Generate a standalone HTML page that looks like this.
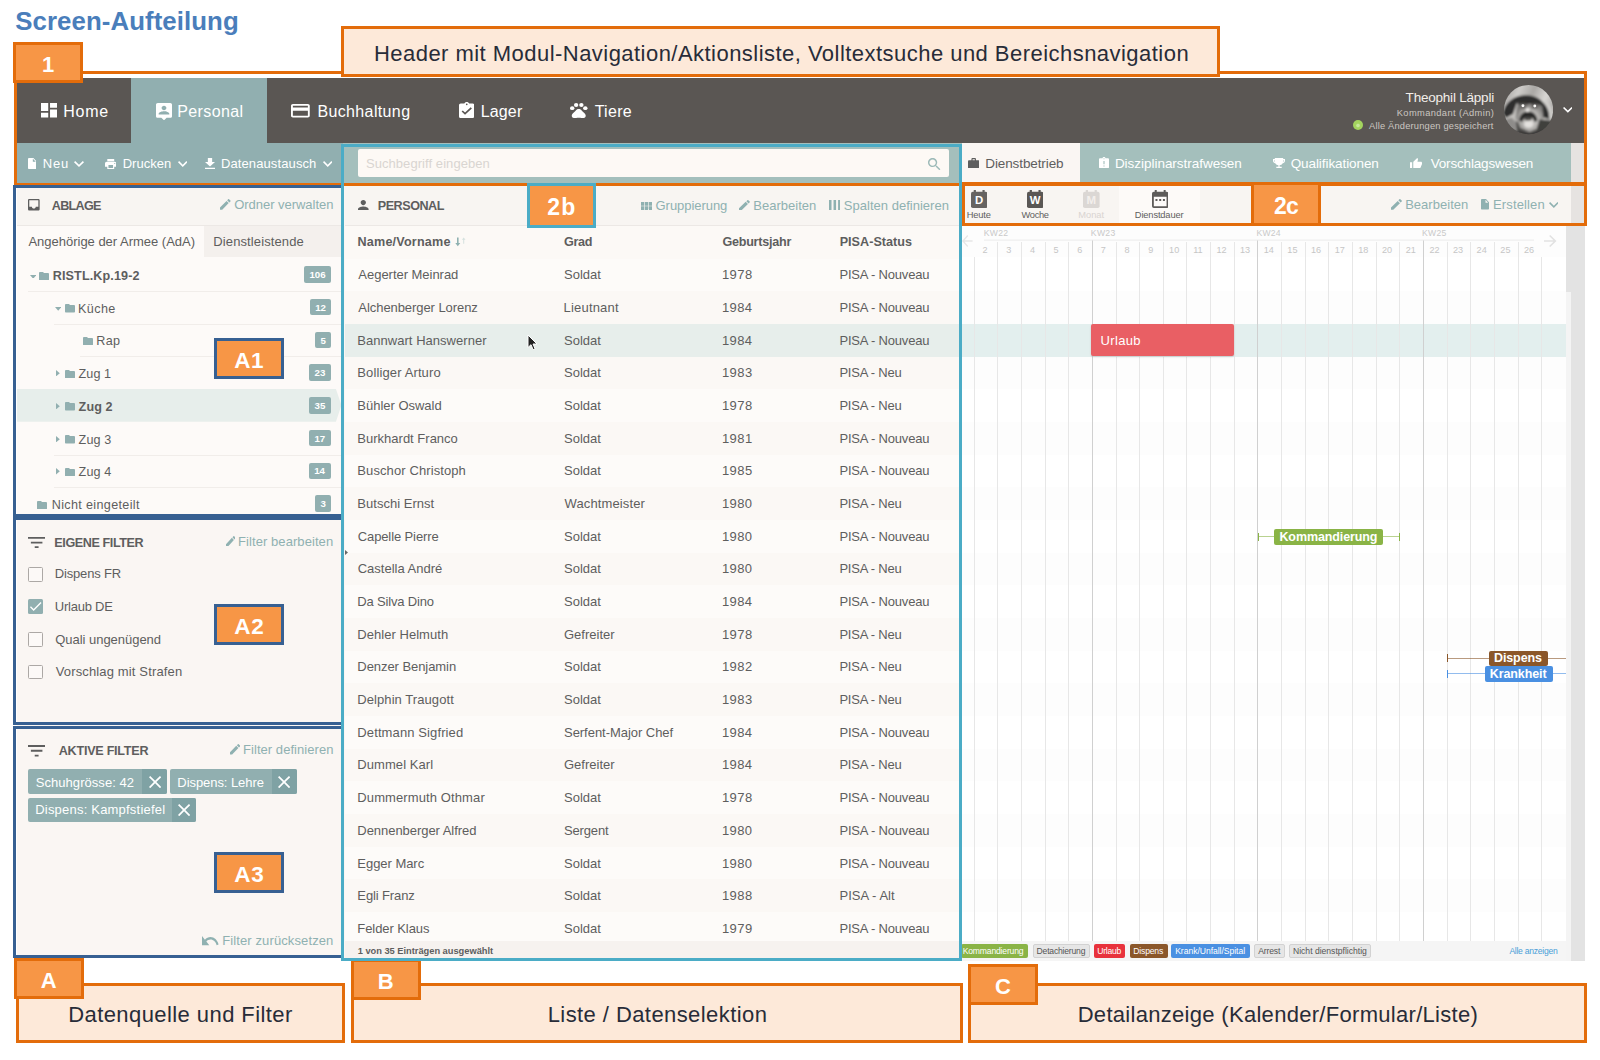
<!DOCTYPE html>
<html lang="de"><head><meta charset="utf-8"><title>Screen-Aufteilung</title>
<style>
html,body{margin:0;padding:0;background:#fff;}
body{width:1600px;height:1060px;position:relative;overflow:hidden;font-family:"Liberation Sans",sans-serif;}
div,span.t,svg{position:absolute;box-sizing:border-box;}
span.t{white-space:pre;line-height:1;}

</style></head><body>
<span class="t" style="left:15.26px;top:8.75px;font-size:25.8px;font-weight:700;color:#4a7ebb;letter-spacing:0.082px;">Screen-Aufteilung</span>
<div style="left:17px;top:78px;width:1567px;height:65px;background:#5a5653;"></div>
<div style="left:131px;top:78px;width:135.5px;height:65px;background:#91afb0;"></div>
<div style="left:17px;top:143px;width:327px;height:41px;background:#91afb0;"></div>
<div style="left:343px;top:143px;width:619px;height:41px;background:#a4bfbc;"></div>
<div style="left:962px;top:143px;width:609px;height:40px;background:#a4bfbc;"></div>
<div style="left:962px;top:143px;width:118px;height:40px;background:#faf6f3;"></div>
<div style="left:1571px;top:143px;width:13.5px;height:83px;background:#e6e3e1;"></div>
<div style="left:1571px;top:226px;width:13.5px;height:735px;background:#e3e3e3;"></div>
<div style="left:17px;top:184px;width:327px;height:774px;background:#faf6f3;"></div>
<div style="left:343px;top:184px;width:619px;height:777px;background:#faf6f3;"></div>
<div style="left:961px;top:184px;width:610px;height:42px;background:#faf6f3;"></div>
<div style="left:961px;top:226px;width:610px;height:735px;background:#ffffff;"></div>
<div style="left:358px;top:149px;width:591px;height:28px;background:#fdf9f5;border-radius:2px;"></div>
<div style="left:17px;top:185px;width:327px;height:40.5px;background:#f8f5f2;"></div>
<div style="left:17px;top:225px;width:327px;height:1px;background:#ece8e5;"></div>
<div style="left:17px;top:226px;width:327px;height:291px;background:#fdfaf8;"></div>
<div style="left:204.4px;top:226px;width:139.6px;height:31.2px;background:#f4f0ed;"></div>
<svg style="left:28.10px;top:199.40px;" width="11.65" height="11.50" viewBox="3 3 18.00 18.00" preserveAspectRatio="none" fill="#5e5e5e"><path d="M19 3H4.990c-1.110 0-1.980.890-1.980 2L3 19c0 1.100.880 2 1.990 2H19c1.100 0 2-.9 2-2V5c0-1.110-.9-2-2-2zm0 12h-4c0 1.660-1.350 3-3 3s-3-1.340-3-3H4.990V5H19v10z"/></svg>
<span class="t" style="left:51.79px;top:200.10px;font-size:12.6px;font-weight:700;color:#5e5e5e;letter-spacing:-0.713px;">ABLAGE</span>
<svg style="left:220.40px;top:199.40px;" width="10.60" height="10.70" viewBox="3 3 18.00 18.00" preserveAspectRatio="none" fill="#8fb1b1"><path d="M3 17.25V21h3.750L17.810 9.940l-3.750-3.750L3 17.250zM20.710 7.040c.39-.39.39-1.020 0-1.410l-2.340-2.340c-.39-.39-1.020-.39-1.410 0l-1.830 1.830 3.750 3.750 1.830-1.830z"/></svg>
<span class="t" style="left:234.18px;top:198.20px;font-size:13px;color:#8fb1b1;letter-spacing:-0.030px;">Ordner verwalten</span>
<span class="t" style="left:28.47px;top:235.20px;font-size:13px;color:#5e5e5e;letter-spacing:-0.016px;">Angehörige der Armee (AdA)</span>
<span class="t" style="left:213.33px;top:235.20px;font-size:13px;color:#5e5e5e;letter-spacing:0.111px;">Dienstleistende</span>
<div style="left:28px;top:290.85px;width:313px;height:1px;background:#f1edea;"></div>
<svg style="left:29.50px;top:274.60px;" width="6.40" height="3.80" viewBox="0 0 10.00 6.00" preserveAspectRatio="none" fill="#91afb0"><path d="M0 0h10L5 6z"/></svg>
<svg style="left:38.70px;top:271.50px;" width="10.00" height="8.50" viewBox="2 4 20.00 16.00" preserveAspectRatio="none" fill="#91afb0"><path d="M10 4H4c-1.100 0-1.990.9-1.990 2L2 18c0 1.100.9 2 2 2h16c1.100 0 2-.9 2-2V8c0-1.100-.9-2-2-2h-8l-2-2z"/></svg>
<span class="t" style="left:52.76px;top:269.90px;font-size:12.6px;font-weight:700;color:#5e5e5e;letter-spacing:0.115px;">RISTL.Kp.19-2</span>
<div style="left:304.4px;top:266.2px;width:26.6px;height:16.5px;background:#91afb0;border-radius:2px;"></div>
<span class="t" style="left:309.49px;top:270.10px;font-size:9.7px;font-weight:700;color:#fff;">106</span>
<div style="left:54px;top:323.58000000000004px;width:287px;height:1px;background:#f1edea;"></div>
<svg style="left:55.00px;top:307.33px;" width="6.40" height="3.80" viewBox="0 0 10.00 6.00" preserveAspectRatio="none" fill="#91afb0"><path d="M0 0h10L5 6z"/></svg>
<svg style="left:64.80px;top:304.23px;" width="10.00" height="8.50" viewBox="2 4 20.00 16.00" preserveAspectRatio="none" fill="#91afb0"><path d="M10 4H4c-1.100 0-1.990.9-1.990 2L2 18c0 1.100.9 2 2 2h16c1.100 0 2-.9 2-2V8c0-1.100-.9-2-2-2h-8l-2-2z"/></svg>
<span class="t" style="left:77.97px;top:302.63px;font-size:12.6px;color:#5e5e5e;letter-spacing:0.421px;">Küche</span>
<div style="left:310.4px;top:298.93px;width:20.6px;height:16.5px;background:#91afb0;border-radius:2px;"></div>
<span class="t" style="left:315.20px;top:302.83px;font-size:9.7px;font-weight:700;color:#fff;">12</span>
<div style="left:80px;top:356.31px;width:261px;height:1px;background:#f1edea;"></div>
<svg style="left:82.60px;top:336.96px;" width="10.00" height="8.50" viewBox="2 4 20.00 16.00" preserveAspectRatio="none" fill="#91afb0"><path d="M10 4H4c-1.100 0-1.990.9-1.990 2L2 18c0 1.100.9 2 2 2h16c1.100 0 2-.9 2-2V8c0-1.100-.9-2-2-2h-8l-2-2z"/></svg>
<span class="t" style="left:96.37px;top:335.36px;font-size:12.6px;color:#5e5e5e;letter-spacing:0.330px;">Rap</span>
<div style="left:315.4px;top:331.65999999999997px;width:15.6px;height:16.5px;background:#91afb0;border-radius:2px;"></div>
<span class="t" style="left:320.49px;top:335.56px;font-size:9.7px;font-weight:700;color:#fff;">5</span>
<svg style="left:56.20px;top:370.09px;" width="3.80" height="6.40" viewBox="0 0 6.00 10.00" preserveAspectRatio="none" fill="#91afb0"><path d="M0 0v10l6-5z"/></svg>
<svg style="left:64.80px;top:369.69px;" width="10.00" height="8.50" viewBox="2 4 20.00 16.00" preserveAspectRatio="none" fill="#91afb0"><path d="M10 4H4c-1.100 0-1.990.9-1.990 2L2 18c0 1.100.9 2 2 2h16c1.100 0 2-.9 2-2V8c0-1.100-.9-2-2-2h-8l-2-2z"/></svg>
<span class="t" style="left:78.60px;top:368.09px;font-size:12.6px;color:#5e5e5e;letter-spacing:0.053px;">Zug 1</span>
<div style="left:308.8px;top:364.39px;width:22.2px;height:16.5px;background:#91afb0;border-radius:2px;"></div>
<span class="t" style="left:314.52px;top:368.29px;font-size:9.7px;font-weight:700;color:#fff;">23</span>
<svg style="left:17px;top:389.12px" width="327" height="32.700" viewBox="0 0 327 32.700"><path d="M0 0H319L324.500 16.350 319 32.700H0z" fill="#e7eeeb"/></svg>
<svg style="left:56.20px;top:402.82px;" width="3.80" height="6.40" viewBox="0 0 6.00 10.00" preserveAspectRatio="none" fill="#91afb0"><path d="M0 0v10l6-5z"/></svg>
<svg style="left:64.80px;top:402.42px;" width="10.00" height="8.50" viewBox="2 4 20.00 16.00" preserveAspectRatio="none" fill="#91afb0"><path d="M10 4H4c-1.100 0-1.990.9-1.990 2L2 18c0 1.100.9 2 2 2h16c1.100 0 2-.9 2-2V8c0-1.100-.9-2-2-2h-8l-2-2z"/></svg>
<span class="t" style="left:78.62px;top:400.82px;font-size:12.6px;font-weight:700;color:#5e5e5e;letter-spacing:0.075px;">Zug 2</span>
<div style="left:308.8px;top:397.11999999999995px;width:22.2px;height:16.5px;background:#91afb0;border-radius:2px;"></div>
<span class="t" style="left:314.54px;top:401.02px;font-size:9.7px;font-weight:700;color:#fff;">35</span>
<div style="left:54px;top:454.5px;width:287px;height:1px;background:#f1edea;"></div>
<svg style="left:56.20px;top:435.55px;" width="3.80" height="6.40" viewBox="0 0 6.00 10.00" preserveAspectRatio="none" fill="#91afb0"><path d="M0 0v10l6-5z"/></svg>
<svg style="left:64.80px;top:435.15px;" width="10.00" height="8.50" viewBox="2 4 20.00 16.00" preserveAspectRatio="none" fill="#91afb0"><path d="M10 4H4c-1.100 0-1.990.9-1.990 2L2 18c0 1.100.9 2 2 2h16c1.100 0 2-.9 2-2V8c0-1.100-.9-2-2-2h-8l-2-2z"/></svg>
<span class="t" style="left:78.60px;top:433.55px;font-size:12.6px;color:#5e5e5e;letter-spacing:0.137px;">Zug 3</span>
<div style="left:308.8px;top:429.84999999999997px;width:22.2px;height:16.5px;background:#91afb0;border-radius:2px;"></div>
<span class="t" style="left:314.42px;top:433.75px;font-size:9.7px;font-weight:700;color:#fff;">17</span>
<div style="left:54px;top:487.23px;width:287px;height:1px;background:#f1edea;"></div>
<svg style="left:56.20px;top:468.28px;" width="3.80" height="6.40" viewBox="0 0 6.00 10.00" preserveAspectRatio="none" fill="#91afb0"><path d="M0 0v10l6-5z"/></svg>
<svg style="left:64.80px;top:467.88px;" width="10.00" height="8.50" viewBox="2 4 20.00 16.00" preserveAspectRatio="none" fill="#91afb0"><path d="M10 4H4c-1.100 0-1.990.9-1.990 2L2 18c0 1.100.9 2 2 2h16c1.100 0 2-.9 2-2V8c0-1.100-.9-2-2-2h-8l-2-2z"/></svg>
<span class="t" style="left:78.60px;top:466.28px;font-size:12.6px;color:#5e5e5e;letter-spacing:0.091px;">Zug 4</span>
<div style="left:308.8px;top:462.58px;width:22.2px;height:16.5px;background:#91afb0;border-radius:2px;"></div>
<span class="t" style="left:314.23px;top:466.48px;font-size:9.7px;font-weight:700;color:#fff;">14</span>
<svg style="left:37.00px;top:500.61px;" width="10.00" height="8.50" viewBox="2 4 20.00 16.00" preserveAspectRatio="none" fill="#91afb0"><path d="M10 4H4c-1.100 0-1.990.9-1.990 2L2 18c0 1.100.9 2 2 2h16c1.100 0 2-.9 2-2V8c0-1.100-.9-2-2-2h-8l-2-2z"/></svg>
<span class="t" style="left:51.77px;top:499.01px;font-size:12.6px;color:#5e5e5e;letter-spacing:0.341px;">Nicht eingeteilt</span>
<div style="left:315.4px;top:495.31px;width:15.6px;height:16.5px;background:#91afb0;border-radius:2px;"></div>
<span class="t" style="left:320.57px;top:499.21px;font-size:9.7px;font-weight:700;color:#fff;">3</span>
<svg style="left:28.00px;top:537.00px;" width="17.30" height="11.20" viewBox="3 6 18.00 12.00" preserveAspectRatio="none" fill="#5e5e5e"><path d="M10 18h4v-2h-4v2zM3 6v2h18V6H3zm3 7h12v-2H6v2z"/></svg>
<span class="t" style="left:54.36px;top:536.90px;font-size:12.6px;font-weight:700;color:#5e5e5e;letter-spacing:-0.410px;">EIGENE FILTER</span>
<svg style="left:225.60px;top:535.50px;" width="9.60" height="10.50" viewBox="3 3 18.00 18.00" preserveAspectRatio="none" fill="#8fb1b1"><path d="M3 17.25V21h3.750L17.810 9.940l-3.750-3.750L3 17.250zM20.710 7.040c.39-.39.39-1.020 0-1.410l-2.340-2.340c-.39-.39-1.020-.39-1.410 0l-1.830 1.830 3.750 3.750 1.830-1.830z"/></svg>
<span class="t" style="left:238.03px;top:534.60px;font-size:13px;color:#8fb1b1;letter-spacing:0.073px;">Filter bearbeiten</span>
<div style="left:28px;top:567px;width:15px;height:14.5px;background:#fcf9f7;border:1px solid #aca8a5;border-radius:1.5px;"></div>
<span class="t" style="left:54.73px;top:567.30px;font-size:13px;color:#5e5e5e;letter-spacing:-0.160px;">Dispens FR</span>
<div style="left:28px;top:599.2px;width:15px;height:14.5px;background:#91afb0;border-radius:1.5px;"></div>
<svg style="left:30.00px;top:601.70px;" width="11.50" height="9.00" viewBox="3.43 5.59 17.57 13.41" preserveAspectRatio="none" fill="#fff"><path d="M9 16.170L4.830 12l-1.400 1.400L9 19 21 7l-1.410-1.410z"/></svg>
<span class="t" style="left:54.80px;top:599.50px;font-size:13px;color:#5e5e5e;letter-spacing:-0.238px;">Urlaub DE</span>
<div style="left:28px;top:632.2px;width:15px;height:14.5px;background:#fcf9f7;border:1px solid #aca8a5;border-radius:1.5px;"></div>
<span class="t" style="left:55.18px;top:632.50px;font-size:13px;color:#5e5e5e;letter-spacing:-0.027px;">Quali ungenügend</span>
<div style="left:28px;top:664.8px;width:15px;height:14.5px;background:#fcf9f7;border:1px solid #aca8a5;border-radius:1.5px;"></div>
<span class="t" style="left:55.74px;top:665.10px;font-size:13px;color:#5e5e5e;letter-spacing:0.142px;">Vorschlag mit Strafen</span>
<svg style="left:28.00px;top:745.00px;" width="17.30" height="11.60" viewBox="3 6 18.00 12.00" preserveAspectRatio="none" fill="#5e5e5e"><path d="M10 18h4v-2h-4v2zM3 6v2h18V6H3zm3 7h12v-2H6v2z"/></svg>
<span class="t" style="left:58.79px;top:745.00px;font-size:12.6px;font-weight:700;color:#5e5e5e;letter-spacing:-0.254px;">AKTIVE FILTER</span>
<svg style="left:229.60px;top:744.00px;" width="10.20" height="10.50" viewBox="3 3 18.00 18.00" preserveAspectRatio="none" fill="#8fb1b1"><path d="M3 17.25V21h3.750L17.810 9.940l-3.750-3.750L3 17.250zM20.710 7.040c.39-.39.39-1.020 0-1.410l-2.340-2.340c-.39-.39-1.020-.39-1.410 0l-1.830 1.830 3.750 3.750 1.830-1.830z"/></svg>
<span class="t" style="left:243.03px;top:743.30px;font-size:13px;color:#8fb1b1;letter-spacing:0.051px;">Filter definieren</span>
<div style="left:28.1px;top:769.2px;width:138.9px;height:24.799999999999955px;background:#91afb0;border-radius:2px;"></div>
<div style="left:142.2px;top:769.2px;width:24.80000000000001px;height:24.799999999999955px;background:#7fa2a4;border-radius:0 2px 2px 0;"></div>
<span class="t" style="left:35.71px;top:775.70px;font-size:13px;color:#fff;letter-spacing:0.056px;">Schuhgrösse: 42</span>
<svg style="left:148.50px;top:775.50px;" width="12.20" height="12.20" viewBox="5 5 14.00 14.00" preserveAspectRatio="none" fill="#fff"><path d="M19 6.410L17.590 5 12 10.590 6.410 5 5 6.410 10.590 12 5 17.590 6.410 19 12 13.410 17.590 19 19 17.590 13.410 12z"/></svg>
<div style="left:170.1px;top:769.2px;width:126.50000000000003px;height:24.799999999999955px;background:#91afb0;border-radius:2px;"></div>
<div style="left:271.8px;top:769.2px;width:24.80000000000001px;height:24.799999999999955px;background:#7fa2a4;border-radius:0 2px 2px 0;"></div>
<span class="t" style="left:177.33px;top:775.70px;font-size:13px;color:#fff;letter-spacing:-0.069px;">Dispens: Lehre</span>
<svg style="left:278.10px;top:775.50px;" width="12.20" height="12.20" viewBox="5 5 14.00 14.00" preserveAspectRatio="none" fill="#fff"><path d="M19 6.410L17.590 5 12 10.590 6.410 5 5 6.410 10.590 12 5 17.590 6.410 19 12 13.410 17.590 19 19 17.590 13.410 12z"/></svg>
<div style="left:28.1px;top:797.6px;width:167.9px;height:24.0px;background:#91afb0;border-radius:2px;"></div>
<div style="left:172.1px;top:797.6px;width:23.900000000000006px;height:24.0px;background:#7fa2a4;border-radius:0 2px 2px 0;"></div>
<span class="t" style="left:35.23px;top:803.40px;font-size:13px;color:#fff;letter-spacing:0.206px;">Dispens: Kampfstiefel</span>
<svg style="left:177.95px;top:803.50px;" width="12.20" height="12.20" viewBox="5 5 14.00 14.00" preserveAspectRatio="none" fill="#fff"><path d="M19 6.410L17.590 5 12 10.590 6.410 5 5 6.410 10.590 12 5 17.590 6.410 19 12 13.410 17.590 19 19 17.590 13.410 12z"/></svg>
<svg style="left:202.00px;top:936.25px;" width="17.00" height="9.50" viewBox="2 7 21.00 9.30" preserveAspectRatio="none" fill="#8fb1b1"><path d="M12.500 8c-2.650 0-5.050.990-6.900 2.600L2 7v9h9l-3.620-3.620c1.390-1.160 3.160-1.880 5.120-1.880 3.540 0 6.550 2.310 7.600 5.500l2.370-.780C21.080 11.030 17.150 8 12.500 8z"/></svg>
<span class="t" style="left:222.18px;top:934.00px;font-size:13px;color:#8fb1b1;letter-spacing:0.115px;">Filter zurücksetzen</span>
<div style="left:344.5px;top:185px;width:614px;height:40.5px;background:#f8f5f2;"></div>
<div style="left:344.5px;top:225.3px;width:614px;height:1px;background:#ece8e5;"></div>
<div style="left:344.5px;top:226.3px;width:614px;height:32.39999999999998px;background:#fcf9f6;"></div>
<div style="left:344.5px;top:258.7px;width:614px;height:32.72px;background:#fdfbf9;"></div>
<div style="left:344.5px;top:291.37px;width:614px;height:32.72px;background:#fbf8f5;"></div>
<div style="left:344.5px;top:324.03999999999996px;width:614px;height:32.72px;background:#e7eeeb;"></div>
<div style="left:344.5px;top:356.71px;width:614px;height:32.72px;background:#fbf8f5;"></div>
<div style="left:344.5px;top:389.38px;width:614px;height:32.72px;background:#fdfbf9;"></div>
<div style="left:344.5px;top:422.05px;width:614px;height:32.72px;background:#fbf8f5;"></div>
<div style="left:344.5px;top:454.72px;width:614px;height:32.72px;background:#fdfbf9;"></div>
<div style="left:344.5px;top:487.39px;width:614px;height:32.72px;background:#fbf8f5;"></div>
<div style="left:344.5px;top:520.06px;width:614px;height:32.72px;background:#fdfbf9;"></div>
<div style="left:344.5px;top:552.73px;width:614px;height:32.72px;background:#fbf8f5;"></div>
<div style="left:344.5px;top:585.4000000000001px;width:614px;height:32.72px;background:#fdfbf9;"></div>
<div style="left:344.5px;top:618.0699999999999px;width:614px;height:32.72px;background:#fbf8f5;"></div>
<div style="left:344.5px;top:650.74px;width:614px;height:32.72px;background:#fdfbf9;"></div>
<div style="left:344.5px;top:683.4100000000001px;width:614px;height:32.72px;background:#fbf8f5;"></div>
<div style="left:344.5px;top:716.0799999999999px;width:614px;height:32.72px;background:#fdfbf9;"></div>
<div style="left:344.5px;top:748.75px;width:614px;height:32.72px;background:#fbf8f5;"></div>
<div style="left:344.5px;top:781.4200000000001px;width:614px;height:32.72px;background:#fdfbf9;"></div>
<div style="left:344.5px;top:814.0899999999999px;width:614px;height:32.72px;background:#fbf8f5;"></div>
<div style="left:344.5px;top:846.76px;width:614px;height:32.72px;background:#fdfbf9;"></div>
<div style="left:344.5px;top:879.4300000000001px;width:614px;height:32.72px;background:#fbf8f5;"></div>
<div style="left:344.5px;top:912.1000000000001px;width:614px;height:32.72px;background:#fdfbf9;"></div>
<div style="left:344.5px;top:941px;width:614px;height:17.5px;background:#f6f2ef;"></div>
<svg style="left:358.40px;top:199.60px;" width="10.60" height="10.40" viewBox="4 4 16.00 16.00" preserveAspectRatio="none" fill="#5e5e5e"><path d="M12 12c2.210 0 4-1.790 4-4s-1.790-4-4-4-4 1.790-4 4 1.790 4 4 4zm0 2c-2.670 0-8 1.340-8 4v2h16v-2c0-2.660-5.330-4-8-4z"/></svg>
<span class="t" style="left:377.76px;top:200.00px;font-size:12.6px;font-weight:700;color:#5e5e5e;letter-spacing:-0.477px;">PERSONAL</span>
<svg style="left:641.00px;top:201.80px;" width="11.20" height="7.90" viewBox="4 5 17.00 13.00" preserveAspectRatio="none" fill="#8fb1b1"><path d="M4 11h5V5H4v6zm0 7h5v-6H4v6zm6 0h5v-6h-5v6zm6 0h5v-6h-5v6zm-6-7h5V5h-5v6zm6-6v6h5V5h-5z"/></svg>
<span class="t" style="left:655.55px;top:198.70px;font-size:13px;color:#8fb1b1;letter-spacing:-0.048px;">Gruppierung</span>
<svg style="left:739.40px;top:199.50px;" width="10.90" height="10.50" viewBox="3 3 18.00 18.00" preserveAspectRatio="none" fill="#8fb1b1"><path d="M3 17.25V21h3.750L17.810 9.940l-3.750-3.750L3 17.250zM20.710 7.040c.39-.39.39-1.020 0-1.410l-2.340-2.340c-.39-.39-1.020-.39-1.410 0l-1.830 1.830 3.750 3.750 1.830-1.830z"/></svg>
<span class="t" style="left:753.23px;top:198.70px;font-size:13px;color:#8fb1b1;letter-spacing:0.015px;">Bearbeiten</span>
<svg style="left:828.90px;top:199.80px;" width="11.60" height="10.20" viewBox="0 0 12.00 12.00" preserveAspectRatio="none" fill="#8fb1b1"><rect x="0" y="0" width="2.6" height="12"/><rect x="4.700" y="0" width="2.6" height="12"/><rect x="9.400" y="0" width="2.6" height="12"/></svg>
<span class="t" style="left:843.81px;top:198.70px;font-size:13px;color:#8fb1b1;letter-spacing:0.020px;">Spalten definieren</span>
<span class="t" style="left:357.56px;top:235.60px;font-size:12.6px;font-weight:700;color:#5e5e5e;letter-spacing:0.192px;">Name/Vorname</span>
<span class="t" style="left:564.08px;top:235.60px;font-size:12.6px;font-weight:700;color:#5e5e5e;letter-spacing:-0.349px;">Grad</span>
<span class="t" style="left:722.38px;top:235.60px;font-size:12.6px;font-weight:700;color:#5e5e5e;letter-spacing:-0.237px;">Geburtsjahr</span>
<span class="t" style="left:839.66px;top:235.60px;font-size:12.6px;font-weight:700;color:#5e5e5e;letter-spacing:0.028px;">PISA-Status</span>
<svg style="left:454.5px;top:236.5px" width="12" height="10" viewBox="0 0 12 10"><path d="M2 0.500h1.600v5.500h1.700L2.800 9.300 0.300 6h1.700z" fill="#8fb1b1"/><path d="M8.700 0.500l1.800 2.300h-1.300v4h-1v-4h-1.300z" fill="#d5e1df"/></svg>
<span class="t" style="left:358.37px;top:268.43px;font-size:13px;color:#5e5e5e;letter-spacing:-0.032px;">Aegerter Meinrad</span>
<span class="t" style="left:564.01px;top:268.43px;font-size:13px;color:#5e5e5e;letter-spacing:0.005px;">Soldat</span>
<span class="t" style="left:721.91px;top:268.43px;font-size:13px;color:#5e5e5e;letter-spacing:0.445px;">1978</span>
<span class="t" style="left:839.43px;top:268.43px;font-size:13px;color:#5e5e5e;letter-spacing:-0.191px;">PISA - Nouveau</span>
<span class="t" style="left:358.37px;top:301.10px;font-size:13px;color:#5e5e5e;letter-spacing:-0.068px;">Alchenberger Lorenz</span>
<span class="t" style="left:563.53px;top:301.10px;font-size:13px;color:#5e5e5e;letter-spacing:0.196px;">Lieutnant</span>
<span class="t" style="left:721.91px;top:301.10px;font-size:13px;color:#5e5e5e;letter-spacing:0.384px;">1984</span>
<span class="t" style="left:839.43px;top:301.10px;font-size:13px;color:#5e5e5e;letter-spacing:-0.191px;">PISA - Nouveau</span>
<span class="t" style="left:357.33px;top:333.77px;font-size:13px;color:#5e5e5e;letter-spacing:0.031px;">Bannwart Hanswerner</span>
<span class="t" style="left:564.01px;top:333.77px;font-size:13px;color:#5e5e5e;letter-spacing:0.005px;">Soldat</span>
<span class="t" style="left:721.91px;top:333.77px;font-size:13px;color:#5e5e5e;letter-spacing:0.384px;">1984</span>
<span class="t" style="left:839.43px;top:333.77px;font-size:13px;color:#5e5e5e;letter-spacing:-0.191px;">PISA - Nouveau</span>
<span class="t" style="left:357.33px;top:366.44px;font-size:13px;color:#5e5e5e;letter-spacing:0.118px;">Bolliger Arturo</span>
<span class="t" style="left:564.01px;top:366.44px;font-size:13px;color:#5e5e5e;letter-spacing:0.005px;">Soldat</span>
<span class="t" style="left:721.91px;top:366.44px;font-size:13px;color:#5e5e5e;letter-spacing:0.447px;">1983</span>
<span class="t" style="left:839.43px;top:366.44px;font-size:13px;color:#5e5e5e;letter-spacing:-0.222px;">PISA - Neu</span>
<span class="t" style="left:357.33px;top:399.11px;font-size:13px;color:#5e5e5e;letter-spacing:-0.019px;">Bühler Oswald</span>
<span class="t" style="left:564.01px;top:399.11px;font-size:13px;color:#5e5e5e;letter-spacing:0.005px;">Soldat</span>
<span class="t" style="left:721.91px;top:399.11px;font-size:13px;color:#5e5e5e;letter-spacing:0.445px;">1978</span>
<span class="t" style="left:839.43px;top:399.11px;font-size:13px;color:#5e5e5e;letter-spacing:-0.222px;">PISA - Neu</span>
<span class="t" style="left:357.33px;top:431.78px;font-size:13px;color:#5e5e5e;letter-spacing:0.005px;">Burkhardt Franco</span>
<span class="t" style="left:564.01px;top:431.78px;font-size:13px;color:#5e5e5e;letter-spacing:0.005px;">Soldat</span>
<span class="t" style="left:721.91px;top:431.78px;font-size:13px;color:#5e5e5e;letter-spacing:0.468px;">1981</span>
<span class="t" style="left:839.43px;top:431.78px;font-size:13px;color:#5e5e5e;letter-spacing:-0.191px;">PISA - Nouveau</span>
<span class="t" style="left:357.33px;top:464.45px;font-size:13px;color:#5e5e5e;letter-spacing:0.098px;">Buschor Christoph</span>
<span class="t" style="left:564.01px;top:464.45px;font-size:13px;color:#5e5e5e;letter-spacing:0.005px;">Soldat</span>
<span class="t" style="left:721.91px;top:464.45px;font-size:13px;color:#5e5e5e;letter-spacing:0.439px;">1985</span>
<span class="t" style="left:839.43px;top:464.45px;font-size:13px;color:#5e5e5e;letter-spacing:-0.191px;">PISA - Nouveau</span>
<span class="t" style="left:357.33px;top:497.12px;font-size:13px;color:#5e5e5e;letter-spacing:0.015px;">Butschi Ernst</span>
<span class="t" style="left:564.54px;top:497.12px;font-size:13px;color:#5e5e5e;letter-spacing:0.127px;">Wachtmeister</span>
<span class="t" style="left:721.91px;top:497.12px;font-size:13px;color:#5e5e5e;letter-spacing:0.426px;">1980</span>
<span class="t" style="left:839.43px;top:497.12px;font-size:13px;color:#5e5e5e;letter-spacing:-0.222px;">PISA - Neu</span>
<span class="t" style="left:357.74px;top:529.79px;font-size:13px;color:#5e5e5e;letter-spacing:-0.110px;">Capelle Pierre</span>
<span class="t" style="left:564.01px;top:529.79px;font-size:13px;color:#5e5e5e;letter-spacing:0.005px;">Soldat</span>
<span class="t" style="left:721.91px;top:529.79px;font-size:13px;color:#5e5e5e;letter-spacing:0.426px;">1980</span>
<span class="t" style="left:839.43px;top:529.79px;font-size:13px;color:#5e5e5e;letter-spacing:-0.191px;">PISA - Nouveau</span>
<span class="t" style="left:357.74px;top:562.47px;font-size:13px;color:#5e5e5e;letter-spacing:-0.002px;">Castella André</span>
<span class="t" style="left:564.01px;top:562.47px;font-size:13px;color:#5e5e5e;letter-spacing:0.005px;">Soldat</span>
<span class="t" style="left:721.91px;top:562.47px;font-size:13px;color:#5e5e5e;letter-spacing:0.426px;">1980</span>
<span class="t" style="left:839.43px;top:562.47px;font-size:13px;color:#5e5e5e;letter-spacing:-0.222px;">PISA - Neu</span>
<span class="t" style="left:357.33px;top:595.14px;font-size:13px;color:#5e5e5e;letter-spacing:-0.170px;">Da Silva Dino</span>
<span class="t" style="left:564.01px;top:595.14px;font-size:13px;color:#5e5e5e;letter-spacing:0.005px;">Soldat</span>
<span class="t" style="left:721.91px;top:595.14px;font-size:13px;color:#5e5e5e;letter-spacing:0.384px;">1984</span>
<span class="t" style="left:839.43px;top:595.14px;font-size:13px;color:#5e5e5e;letter-spacing:-0.191px;">PISA - Nouveau</span>
<span class="t" style="left:357.33px;top:627.80px;font-size:13px;color:#5e5e5e;letter-spacing:0.038px;">Dehler Helmuth</span>
<span class="t" style="left:563.95px;top:627.80px;font-size:13px;color:#5e5e5e;letter-spacing:0.012px;">Gefreiter</span>
<span class="t" style="left:721.91px;top:627.80px;font-size:13px;color:#5e5e5e;letter-spacing:0.445px;">1978</span>
<span class="t" style="left:839.43px;top:627.80px;font-size:13px;color:#5e5e5e;letter-spacing:-0.222px;">PISA - Neu</span>
<span class="t" style="left:357.33px;top:660.48px;font-size:13px;color:#5e5e5e;letter-spacing:-0.065px;">Denzer Benjamin</span>
<span class="t" style="left:564.01px;top:660.48px;font-size:13px;color:#5e5e5e;letter-spacing:0.005px;">Soldat</span>
<span class="t" style="left:721.91px;top:660.48px;font-size:13px;color:#5e5e5e;letter-spacing:0.475px;">1982</span>
<span class="t" style="left:839.43px;top:660.48px;font-size:13px;color:#5e5e5e;letter-spacing:-0.222px;">PISA - Neu</span>
<span class="t" style="left:357.33px;top:693.15px;font-size:13px;color:#5e5e5e;letter-spacing:0.069px;">Delphin Traugott</span>
<span class="t" style="left:564.01px;top:693.15px;font-size:13px;color:#5e5e5e;letter-spacing:0.005px;">Soldat</span>
<span class="t" style="left:721.91px;top:693.15px;font-size:13px;color:#5e5e5e;letter-spacing:0.447px;">1983</span>
<span class="t" style="left:839.43px;top:693.15px;font-size:13px;color:#5e5e5e;letter-spacing:-0.222px;">PISA - Neu</span>
<span class="t" style="left:357.33px;top:725.81px;font-size:13px;color:#5e5e5e;letter-spacing:0.110px;">Dettmann Sigfried</span>
<span class="t" style="left:564.01px;top:725.81px;font-size:13px;color:#5e5e5e;letter-spacing:-0.038px;">Serfent-Major Chef</span>
<span class="t" style="left:721.91px;top:725.81px;font-size:13px;color:#5e5e5e;letter-spacing:0.384px;">1984</span>
<span class="t" style="left:839.43px;top:725.81px;font-size:13px;color:#5e5e5e;letter-spacing:-0.191px;">PISA - Nouveau</span>
<span class="t" style="left:357.33px;top:758.49px;font-size:13px;color:#5e5e5e;letter-spacing:0.061px;">Dummel Karl</span>
<span class="t" style="left:563.95px;top:758.49px;font-size:13px;color:#5e5e5e;letter-spacing:0.012px;">Gefreiter</span>
<span class="t" style="left:721.91px;top:758.49px;font-size:13px;color:#5e5e5e;letter-spacing:0.384px;">1984</span>
<span class="t" style="left:839.43px;top:758.49px;font-size:13px;color:#5e5e5e;letter-spacing:-0.222px;">PISA - Neu</span>
<span class="t" style="left:357.33px;top:791.16px;font-size:13px;color:#5e5e5e;letter-spacing:0.106px;">Dummermuth Othmar</span>
<span class="t" style="left:564.01px;top:791.16px;font-size:13px;color:#5e5e5e;letter-spacing:0.005px;">Soldat</span>
<span class="t" style="left:721.91px;top:791.16px;font-size:13px;color:#5e5e5e;letter-spacing:0.445px;">1978</span>
<span class="t" style="left:839.43px;top:791.16px;font-size:13px;color:#5e5e5e;letter-spacing:-0.191px;">PISA - Nouveau</span>
<span class="t" style="left:357.33px;top:823.82px;font-size:13px;color:#5e5e5e;letter-spacing:-0.049px;">Dennenberger Alfred</span>
<span class="t" style="left:564.01px;top:823.82px;font-size:13px;color:#5e5e5e;letter-spacing:-0.158px;">Sergent</span>
<span class="t" style="left:721.91px;top:823.82px;font-size:13px;color:#5e5e5e;letter-spacing:0.426px;">1980</span>
<span class="t" style="left:839.43px;top:823.82px;font-size:13px;color:#5e5e5e;letter-spacing:-0.191px;">PISA - Nouveau</span>
<span class="t" style="left:357.33px;top:856.50px;font-size:13px;color:#5e5e5e;letter-spacing:-0.042px;">Egger Marc</span>
<span class="t" style="left:564.01px;top:856.50px;font-size:13px;color:#5e5e5e;letter-spacing:0.005px;">Soldat</span>
<span class="t" style="left:721.91px;top:856.50px;font-size:13px;color:#5e5e5e;letter-spacing:0.426px;">1980</span>
<span class="t" style="left:839.43px;top:856.50px;font-size:13px;color:#5e5e5e;letter-spacing:-0.191px;">PISA - Nouveau</span>
<span class="t" style="left:357.33px;top:889.17px;font-size:13px;color:#5e5e5e;letter-spacing:-0.123px;">Egli Franz</span>
<span class="t" style="left:564.01px;top:889.17px;font-size:13px;color:#5e5e5e;letter-spacing:0.005px;">Soldat</span>
<span class="t" style="left:721.91px;top:889.17px;font-size:13px;color:#5e5e5e;letter-spacing:0.445px;">1988</span>
<span class="t" style="left:839.43px;top:889.17px;font-size:13px;color:#5e5e5e;letter-spacing:0.035px;">PISA - Alt</span>
<span class="t" style="left:357.33px;top:921.84px;font-size:13px;color:#5e5e5e;letter-spacing:-0.077px;">Felder Klaus</span>
<span class="t" style="left:564.01px;top:921.84px;font-size:13px;color:#5e5e5e;letter-spacing:0.005px;">Soldat</span>
<span class="t" style="left:721.91px;top:921.84px;font-size:13px;color:#5e5e5e;letter-spacing:0.462px;">1979</span>
<span class="t" style="left:839.43px;top:921.84px;font-size:13px;color:#5e5e5e;letter-spacing:-0.191px;">PISA - Nouveau</span>
<span class="t" style="left:357.66px;top:947.25px;font-size:9.3px;font-weight:700;color:#5e5e5e;letter-spacing:-0.015px;">1 von 35 Einträgen ausgewählt</span>
<svg style="left:526.5px;top:333.5px" width="11" height="17" viewBox="0 0 11 17"><path d="M1 1v12.500l3-2.800 2.100 5 2-.9-2.100-4.800h4z" fill="#222" stroke="#fff" stroke-width="1"/></svg>
<svg style="left:345px;top:549.5px" width="3" height="5" viewBox="0 0 3 5"><path d="M0 0v5l3-2.500z" fill="#666"/></svg>
<svg style="left:962.5px;top:549.5px" width="3" height="5" viewBox="0 0 3 5"><path d="M0 0v5l3-2.500z" fill="#555"/></svg>
<div style="left:961.5px;top:185px;width:609.5px;height:41px;background:#f8f5f2;"></div>
<div style="left:1119px;top:185px;width:81px;height:38.5px;background:#fdfaf8;"></div>
<svg style="left:970.6px;top:189.6px" width="16.40" height="18.00" viewBox="0 0 18 20" preserveAspectRatio="none"><rect x="3" y="0" width="2.400" height="4" fill="#666361"/><rect x="12.600" y="0" width="2.400" height="4" fill="#666361"/><rect x="0" y="2" width="18" height="18" rx="2" fill="#666361"/><text x="9" y="16" text-anchor="middle" font-family="Liberation Sans, sans-serif" font-weight="700" font-size="12.500" fill="#fff">D</text></svg>
<svg style="left:1027px;top:189.6px" width="16.40" height="18.00" viewBox="0 0 18 20" preserveAspectRatio="none"><rect x="3" y="0" width="2.400" height="4" fill="#5a5755"/><rect x="12.600" y="0" width="2.400" height="4" fill="#5a5755"/><rect x="0" y="2" width="18" height="18" rx="2" fill="#5a5755"/><text x="9" y="16" text-anchor="middle" font-family="Liberation Sans, sans-serif" font-weight="700" font-size="12.500" fill="#fff">W</text></svg>
<svg style="left:1083.4px;top:189.6px" width="16.60" height="18.00" viewBox="0 0 18 20" preserveAspectRatio="none"><rect x="3" y="0" width="2.400" height="4" fill="#dbd7d4"/><rect x="12.600" y="0" width="2.400" height="4" fill="#dbd7d4"/><rect x="0" y="2" width="18" height="18" rx="2" fill="#dbd7d4"/><text x="9" y="16" text-anchor="middle" font-family="Liberation Sans, sans-serif" font-weight="700" font-size="12.500" fill="#f3efec">M</text></svg>
<svg style="left:1152px;top:189.600px" width="16.400" height="18" viewBox="0 0 18 20" preserveAspectRatio="none"><rect x="3" y="0" width="2.200" height="4" fill="#5e5b59"/><rect x="12.800" y="0" width="2.200" height="4" fill="#5e5b59"/><path d="M2 2h14a2 2 0 0 1 2 2v14a2 2 0 0 1-2 2H2a2 2 0 0 1-2-2V4a2 2 0 0 1 2-2zm0 5.500V18h14V7.500z" fill="#5e5b59"/><rect x="3.800" y="10" width="2.200" height="2.200" fill="#5e5b59"/><rect x="7.900" y="10" width="2.200" height="2.200" fill="#5e5b59"/><rect x="12" y="10" width="2.200" height="2.200" fill="#5e5b59"/></svg>
<span class="t" style="left:966.64px;top:211.00px;font-size:9.3px;color:#5e5e5e;letter-spacing:-0.108px;">Heute</span>
<span class="t" style="left:1021.56px;top:211.00px;font-size:9.3px;color:#5e5e5e;letter-spacing:-0.328px;">Woche</span>
<span class="t" style="left:1078.24px;top:211.00px;font-size:9.3px;color:#d8d4d1;letter-spacing:-0.002px;">Monat</span>
<span class="t" style="left:1134.84px;top:211.00px;font-size:9.3px;color:#5e5e5e;letter-spacing:-0.141px;">Dienstdauer</span>
<svg style="left:1391.40px;top:199.00px;" width="10.90" height="10.80" viewBox="3 3 18.00 18.00" preserveAspectRatio="none" fill="#8fb1b1"><path d="M3 17.25V21h3.750L17.810 9.940l-3.750-3.750L3 17.250zM20.710 7.040c.39-.39.39-1.020 0-1.410l-2.340-2.340c-.39-.39-1.020-.39-1.410 0l-1.830 1.830 3.750 3.750 1.830-1.830z"/></svg>
<span class="t" style="left:1405.13px;top:198.30px;font-size:13px;color:#8fb1b1;letter-spacing:0.037px;">Bearbeiten</span>
<svg style="left:1481.00px;top:199.00px;" width="8.00" height="10.50" viewBox="4 2 16.00 20.00" preserveAspectRatio="none" fill="#8fb1b1"><path d="M6 2c-1.1 0-1.99.9-1.99 2L4 20c0 1.1.89 2 1.99 2H18c1.1 0 2-.9 2-2V8l-6-6H6zm7 7V3.5L18.5 9H13z"/></svg>
<span class="t" style="left:1493.03px;top:198.30px;font-size:13px;color:#8fb1b1;letter-spacing:0.129px;">Erstellen</span>
<svg style="left:1548.70px;top:202.00px;" width="9.70" height="6.00" viewBox="6 8.59 12.00 7.41" preserveAspectRatio="none" fill="#8fb1b1"><path d="M16.59 8.59L12 13.17 7.41 8.59 6 10l6 6 6-6z"/></svg>
<div style="left:961.5px;top:226px;width:604.5px;height:715px;background:#fff;"></div>
<div style="left:961.5px;top:226px;width:604.5px;height:30.5px;background:#fdfdfd;"></div>
<div style="left:961.5px;top:291.37px;width:604.5px;height:32.67px;background:#fdfdfd;"></div>
<div style="left:961.5px;top:356.71px;width:604.5px;height:32.67px;background:#fdfdfd;"></div>
<div style="left:961.5px;top:422.05px;width:604.5px;height:32.67px;background:#fdfdfd;"></div>
<div style="left:961.5px;top:487.39px;width:604.5px;height:32.67px;background:#fdfdfd;"></div>
<div style="left:961.5px;top:552.73px;width:604.5px;height:32.67px;background:#fdfdfd;"></div>
<div style="left:961.5px;top:618.0699999999999px;width:604.5px;height:32.67px;background:#fdfdfd;"></div>
<div style="left:961.5px;top:683.4100000000001px;width:604.5px;height:32.67px;background:#fdfdfd;"></div>
<div style="left:961.5px;top:748.75px;width:604.5px;height:32.67px;background:#fdfdfd;"></div>
<div style="left:961.5px;top:814.0899999999999px;width:604.5px;height:32.67px;background:#fdfdfd;"></div>
<div style="left:961.5px;top:879.4300000000001px;width:604.5px;height:32.67px;background:#fdfdfd;"></div>
<div style="left:1566px;top:226px;width:5px;height:66px;background:#e3e3e3;"></div>
<div style="left:1566px;top:292px;width:5px;height:669px;background:#f4f4f4;"></div>
<div style="left:961.5px;top:324px;width:604.5px;height:32.5px;background:#e3efee;"></div>
<svg style="left:961.5px;top:226px" width="604.5" height="715" viewBox="0 0 604.5 715"><rect x="12.00" y="31" width="1" height="684" fill="#e7e7e7"/><rect x="35.00" y="16" width="1" height="699" fill="#e7e7e7"/><rect x="59.00" y="16" width="1" height="699" fill="#e7e7e7"/><rect x="83.00" y="16" width="1" height="699" fill="#e7e7e7"/><rect x="106.00" y="16" width="1" height="699" fill="#e7e7e7"/><rect x="130.00" y="14" width="1" height="701" fill="#d0d0d0"/><rect x="154.00" y="16" width="1" height="699" fill="#e7e7e7"/><rect x="177.00" y="16" width="1" height="699" fill="#e7e7e7"/><rect x="201.00" y="16" width="1" height="699" fill="#e7e7e7"/><rect x="224.00" y="16" width="1" height="699" fill="#e7e7e7"/><rect x="248.00" y="16" width="1" height="699" fill="#e7e7e7"/><rect x="272.00" y="16" width="1" height="699" fill="#e7e7e7"/><rect x="295.00" y="14" width="1" height="701" fill="#d0d0d0"/><rect x="319.00" y="16" width="1" height="699" fill="#e7e7e7"/><rect x="343.00" y="16" width="1" height="699" fill="#e7e7e7"/><rect x="366.00" y="16" width="1" height="699" fill="#e7e7e7"/><rect x="390.00" y="16" width="1" height="699" fill="#e7e7e7"/><rect x="414.00" y="16" width="1" height="699" fill="#e7e7e7"/><rect x="437.00" y="16" width="1" height="699" fill="#e7e7e7"/><rect x="461.00" y="14" width="1" height="701" fill="#d0d0d0"/><rect x="485.00" y="16" width="1" height="699" fill="#e7e7e7"/><rect x="508.00" y="16" width="1" height="699" fill="#e7e7e7"/><rect x="532.00" y="16" width="1" height="699" fill="#e7e7e7"/><rect x="556.00" y="16" width="1" height="699" fill="#e7e7e7"/><rect x="579.00" y="31" width="1" height="684" fill="#e7e7e7"/><rect x="22" y="13.600" width="550" height="1" fill="#ececec"/></svg>
<span class="t" style="left:983.69px;top:229.00px;font-size:8.6px;color:#c9c9c9;letter-spacing:0.345px;">KW22</span>
<span class="t" style="left:1090.84px;top:229.00px;font-size:8.6px;color:#c9c9c9;letter-spacing:0.327px;">KW23</span>
<span class="t" style="left:1256.39px;top:229.00px;font-size:8.6px;color:#c9c9c9;letter-spacing:0.285px;">KW24</span>
<span class="t" style="left:1421.94px;top:229.00px;font-size:8.6px;color:#c9c9c9;letter-spacing:0.322px;">KW25</span>
<span class="t" style="left:982.60px;top:245.90px;font-size:9.1px;color:#c6c6c6;">2</span>
<span class="t" style="left:1006.27px;top:245.90px;font-size:9.1px;color:#c6c6c6;">3</span>
<span class="t" style="left:1029.93px;top:245.90px;font-size:9.1px;color:#c6c6c6;">4</span>
<span class="t" style="left:1053.56px;top:245.90px;font-size:9.1px;color:#c6c6c6;">5</span>
<span class="t" style="left:1077.17px;top:245.90px;font-size:9.1px;color:#c6c6c6;">6</span>
<span class="t" style="left:1100.84px;top:245.90px;font-size:9.1px;color:#c6c6c6;">7</span>
<span class="t" style="left:1124.50px;top:245.90px;font-size:9.1px;color:#c6c6c6;">8</span>
<span class="t" style="left:1148.15px;top:245.90px;font-size:9.1px;color:#c6c6c6;">9</span>
<span class="t" style="left:1169.10px;top:245.90px;font-size:9.1px;color:#c6c6c6;">10</span>
<span class="t" style="left:1193.13px;top:245.90px;font-size:9.1px;color:#c6c6c6;">11</span>
<span class="t" style="left:1216.45px;top:245.90px;font-size:9.1px;color:#c6c6c6;">12</span>
<span class="t" style="left:1240.07px;top:245.90px;font-size:9.1px;color:#c6c6c6;">13</span>
<span class="t" style="left:1263.65px;top:245.90px;font-size:9.1px;color:#c6c6c6;">14</span>
<span class="t" style="left:1287.36px;top:245.90px;font-size:9.1px;color:#c6c6c6;">15</span>
<span class="t" style="left:1311.02px;top:245.90px;font-size:9.1px;color:#c6c6c6;">16</span>
<span class="t" style="left:1334.70px;top:245.90px;font-size:9.1px;color:#c6c6c6;">17</span>
<span class="t" style="left:1358.32px;top:245.90px;font-size:9.1px;color:#c6c6c6;">18</span>
<span class="t" style="left:1382.07px;top:245.90px;font-size:9.1px;color:#c6c6c6;">20</span>
<span class="t" style="left:1405.76px;top:245.90px;font-size:9.1px;color:#c6c6c6;">21</span>
<span class="t" style="left:1429.42px;top:245.90px;font-size:9.1px;color:#c6c6c6;">22</span>
<span class="t" style="left:1453.04px;top:245.90px;font-size:9.1px;color:#c6c6c6;">23</span>
<span class="t" style="left:1476.62px;top:245.90px;font-size:9.1px;color:#c6c6c6;">24</span>
<span class="t" style="left:1500.33px;top:245.90px;font-size:9.1px;color:#c6c6c6;">25</span>
<span class="t" style="left:1523.99px;top:245.90px;font-size:9.1px;color:#c6c6c6;">26</span>
<svg style="left:962.40px;top:235.00px;" width="10.60" height="12.00" viewBox="4 4 16.00 16.00" preserveAspectRatio="none" fill="#e6e6e6"><path d="M20 11H7.830l5.590-5.590L12 4l-8 8 8 8 1.410-1.410L7.830 13H20v-2z"/></svg>
<svg style="left:1544.00px;top:235.00px;" width="12.50" height="12.00" viewBox="4 4 16.00 16.00" preserveAspectRatio="none" fill="#e2e2e2"><path d="M12 4l-1.410 1.410L16.170 11H4v2h12.170l-5.580 5.580L12 20l8-8z"/></svg>
<div style="left:1091.4px;top:323.8px;width:143px;height:32.5px;background:#e95f64;border-radius:2px;box-shadow:0 1px 2px rgba(0,0,0,.15);"></div>
<span class="t" style="left:1100.50px;top:333.50px;font-size:13px;color:#fff;letter-spacing:0.351px;">Urlaub</span>
<div style="left:1258px;top:536.0px;width:141.70000000000005px;height:1px;background:#8ab446;opacity:.6;"></div>
<div style="left:1258px;top:532.5px;width:1px;height:8px;background:#8ab446;"></div>
<div style="left:1398.7px;top:532.5px;width:1px;height:8px;background:#8ab446;"></div>
<div style="left:1274.2px;top:528.75px;width:108.79999999999995px;height:16.25px;background:#8ab446;border-radius:2px;"></div>
<span class="t" style="left:1279.46px;top:531.20px;font-size:12.5px;font-weight:700;color:#fff;letter-spacing:-0.111px;">Kommandierung</span>
<div style="left:1447.3px;top:657.5px;width:118.70000000000005px;height:1px;background:#8b572a;opacity:.6;"></div>
<div style="left:1447.3px;top:654px;width:1px;height:8px;background:#8b572a;"></div>
<div style="left:1489px;top:650.6px;width:58.59999999999991px;height:15.100000000000023px;background:#8b572a;border-radius:2px;"></div>
<span class="t" style="left:1493.96px;top:652.20px;font-size:12.5px;font-weight:700;color:#fff;letter-spacing:-0.096px;">Dispens</span>
<div style="left:1447.3px;top:673.3px;width:118.70000000000005px;height:1px;background:#4a90e2;opacity:.6;"></div>
<div style="left:1447.3px;top:669.8px;width:1px;height:8px;background:#4a90e2;"></div>
<div style="left:1485px;top:666px;width:67.90000000000009px;height:16px;background:#4a90e2;border-radius:2px;"></div>
<span class="t" style="left:1489.86px;top:668.00px;font-size:12.5px;font-weight:700;color:#fff;letter-spacing:-0.121px;">Krankheit</span>
<div style="left:961.5px;top:941px;width:604.5px;height:20px;background:#f5f5f5;"></div>
<div style="left:961.4px;top:944.3px;width:66.60000000000002px;height:13.8px;background:#8ab446;border-radius:2px;"></div>
<span class="t" style="left:962.69px;top:946.70px;font-size:8.6px;color:#fff;letter-spacing:-0.183px;">Kommandierung</span>
<div style="left:1032.9px;top:944.3px;width:56.899999999999864px;height:13.8px;background:#e6e6e6;border:1px solid #d2d2d2;border-radius:2px;"></div>
<span class="t" style="left:1036.59px;top:946.70px;font-size:8.6px;color:#555;letter-spacing:-0.205px;">Detachierung</span>
<div style="left:1093.8px;top:944.3px;width:31.700000000000045px;height:13.8px;background:#e8323c;border-radius:2px;"></div>
<span class="t" style="left:1097.24px;top:946.70px;font-size:8.6px;color:#fff;letter-spacing:-0.238px;">Urlaub</span>
<div style="left:1130px;top:944.3px;width:37.799999999999955px;height:13.8px;background:#8b572a;border-radius:2px;"></div>
<span class="t" style="left:1133.29px;top:946.70px;font-size:8.6px;color:#fff;letter-spacing:-0.189px;">Dispens</span>
<div style="left:1171.4px;top:944.3px;width:78.39999999999986px;height:13.8px;background:#4a90e2;border-radius:2px;"></div>
<span class="t" style="left:1175.19px;top:946.70px;font-size:8.6px;color:#fff;letter-spacing:-0.045px;">Krank/Unfall/Spital</span>
<div style="left:1253.9px;top:944.3px;width:30.899999999999864px;height:13.8px;background:#e6e6e6;border:1px solid #d2d2d2;border-radius:2px;"></div>
<span class="t" style="left:1258.28px;top:946.70px;font-size:8.6px;color:#555;letter-spacing:-0.168px;">Arrest</span>
<div style="left:1289.2px;top:944.3px;width:82.20000000000005px;height:13.8px;background:#e6e6e6;border:1px solid #d2d2d2;border-radius:2px;"></div>
<span class="t" style="left:1292.99px;top:946.70px;font-size:8.6px;color:#555;letter-spacing:-0.009px;">Nicht dienstpflichtig</span>
<span class="t" style="left:1509.38px;top:946.70px;font-size:8.6px;color:#4a9fd8;letter-spacing:-0.269px;">Alle anzeigen</span>
<svg style="left:40.75px;top:103.00px;" width="16.25" height="14.50" viewBox="3 3 18.00 18.00" preserveAspectRatio="none" fill="#ffffff"><path d="M3 13h8V3H3v10zm0 8h8v-6H3v6zm10 0h8V11h-8v10zm0-18v6h8V3h-8z"/></svg>
<span class="t" style="left:63.19px;top:103.50px;font-size:16px;color:#ffffff;letter-spacing:0.781px;">Home</span>
<svg style="left:155.50px;top:103.00px;" width="16.00" height="17.30" viewBox="3 2 18.00 21.00" preserveAspectRatio="none" fill="#ffffff"><path d="M19 2H5c-1.11 0-2 .9-2 2v14c0 1.1.89 2 2 2h4l3 3 3-3h4c1.1 0 2-.9 2-2V4c0-1.1-.9-2-2-2zm-7 3.3c1.49 0 2.7 1.21 2.7 2.7 0 1.49-1.21 2.7-2.7 2.7-1.49 0-2.7-1.21-2.7-2.7 0-1.49 1.21-2.7 2.7-2.7zM18 16H6v-.9c0-2 4-3.1 6-3.1s6 1.1 6 3.1v.9z"/></svg>
<span class="t" style="left:177.19px;top:103.50px;font-size:16px;color:#ffffff;letter-spacing:0.391px;">Personal</span>
<svg style="left:291.25px;top:104.00px;" width="18.75" height="13.50" viewBox="2 4 20.00 16.00" preserveAspectRatio="none" fill="#ffffff"><path d="M20 4H4c-1.11 0-1.99.89-1.99 2L2 18c0 1.11.89 2 2 2h16c1.11 0 2-.89 2-2V6c0-1.11-.89-2-2-2zm0 14H4v-6h16v6zm0-10H4V6h16v2z"/></svg>
<span class="t" style="left:317.44px;top:103.50px;font-size:16px;color:#ffffff;letter-spacing:0.363px;">Buchhaltung</span>
<svg style="left:458.50px;top:102.00px;" width="15.50" height="16.00" viewBox="3 1 18.00 20.00" preserveAspectRatio="none" fill="#ffffff"><path d="M19 3h-4.18C14.4 1.84 13.3 1 12 1c-1.3 0-2.4.84-2.82 2H5c-1.1 0-2 .9-2 2v14c0 1.1.9 2 2 2h14c1.1 0 2-.9 2-2V5c0-1.1-.9-2-2-2zm-7 0c.55 0 1 .45 1 1s-.45 1-1 1-1-.45-1-1 .45-1 1-1zm-2 14l-4-4 1.41-1.41L10 14.17l6.59-6.59L18 9l-8 8z"/></svg>
<span class="t" style="left:480.69px;top:103.50px;font-size:16px;color:#ffffff;letter-spacing:0.164px;">Lager</span>
<svg style="left:570.00px;top:103.00px;" width="17.50" height="15.00" viewBox="2 3 20.00 19.00" preserveAspectRatio="none" fill="#ffffff"><circle cx="4.5" cy="9.5" r="2.5"/><circle cx="9" cy="5.5" r="2.5"/><circle cx="15" cy="5.5" r="2.5"/><circle cx="19.5" cy="9.5" r="2.5"/><path d="M17.34 14.86c-.87-1.02-1.6-1.89-2.48-2.91-.46-.54-1.05-1.08-1.75-1.32-.11-.04-.22-.07-.33-.09-.25-.04-.52-.04-.78-.04s-.53 0-.79.05c-.11.02-.22.05-.33.09-.7.24-1.28.78-1.75 1.32-.87 1.02-1.6 1.89-2.48 2.91-1.31 1.31-2.92 2.76-2.62 4.79.29 1.02 1.02 2.03 2.33 2.32.73.15 3.06-.44 5.54-.44h.18c2.48 0 4.81.58 5.54.44 1.31-.29 2.04-1.31 2.33-2.32.31-2.04-1.3-3.49-2.61-4.8z"/></svg>
<span class="t" style="left:594.64px;top:103.50px;font-size:16px;color:#ffffff;letter-spacing:0.303px;">Tiere</span>
<svg style="left:27.80px;top:158.00px;" width="8.60" height="11.00" viewBox="4 2 16.00 20.00" preserveAspectRatio="none" fill="#ffffff"><path d="M6 2c-1.1 0-1.99.9-1.99 2L4 20c0 1.1.89 2 1.99 2H18c1.1 0 2-.9 2-2V8l-6-6H6zm7 7V3.5L18.5 9H13z"/></svg>
<span class="t" style="left:42.68px;top:157.00px;font-size:13px;color:#ffffff;letter-spacing:0.916px;">Neu</span>
<svg style="left:73.75px;top:161.00px;" width="10.00" height="6.00" viewBox="6 8.59 12.00 7.41" preserveAspectRatio="none" fill="#ffffff"><path d="M16.59 8.59L12 13.17 7.41 8.59 6 10l6 6 6-6z"/></svg>
<svg style="left:104.50px;top:158.50px;" width="11.50" height="10.00" viewBox="2 3 20.00 18.00" preserveAspectRatio="none" fill="#ffffff"><path d="M19 8H5c-1.66 0-3 1.34-3 3v6h4v4h12v-4h4v-6c0-1.66-1.34-3-3-3zm-3 11H8v-5h8v5zm3-7c-.55 0-1-.45-1-1s.45-1 1-1 1 .45 1 1-.45 1-1 1zm-1-9H6v4h12V3z"/></svg>
<span class="t" style="left:122.68px;top:157.00px;font-size:13px;color:#ffffff;letter-spacing:0.042px;">Drucken</span>
<svg style="left:177.50px;top:161.00px;" width="9.50" height="6.00" viewBox="6 8.59 12.00 7.41" preserveAspectRatio="none" fill="#ffffff"><path d="M16.59 8.59L12 13.17 7.41 8.59 6 10l6 6 6-6z"/></svg>
<svg style="left:204.50px;top:158.00px;" width="10.00" height="11.00" viewBox="5 3 14.00 17.00" preserveAspectRatio="none" fill="#ffffff"><path d="M19 9h-4V3H9v6H5l7 7 7-7zM5 18v2h14v-2H5z"/></svg>
<span class="t" style="left:220.93px;top:157.00px;font-size:13px;color:#ffffff;letter-spacing:0.112px;">Datenaustausch</span>
<svg style="left:322.50px;top:161.00px;" width="9.50" height="6.00" viewBox="6 8.59 12.00 7.41" preserveAspectRatio="none" fill="#ffffff"><path d="M16.59 8.59L12 13.17 7.41 8.59 6 10l6 6 6-6z"/></svg>
<span class="t" style="left:365.91px;top:157.00px;font-size:13px;color:#d9d5d1;letter-spacing:0.068px;">Suchbegriff eingeben</span>
<svg style="left:928.20px;top:157.50px;" width="12.40" height="12.20" viewBox="3 3 17.49 17.49" preserveAspectRatio="none" fill="#9dbab8"><path d="M15.5 14h-.79l-.28-.27C15.41 12.59 16 11.11 16 9.5 16 5.91 13.09 3 9.5 3S3 5.91 3 9.5 5.91 16 9.5 16c1.61 0 3.09-.59 4.23-1.57l.27.28v.79l5 4.99L20.49 19l-4.99-5zm-6 0C7.01 14 5 11.99 5 9.5S7.01 5 9.5 5 14 7.01 14 9.5 11.99 14 9.5 14z"/></svg>
<span class="t" style="left:1405.60px;top:90.50px;font-size:13.5px;color:#f2eeea;letter-spacing:-0.211px;">Theophil Läppli</span>
<span class="t" style="left:1396.74px;top:108.80px;font-size:9.3px;color:#cbc6c1;letter-spacing:0.395px;">Kommandant (Admin)</span>
<span class="t" style="left:1369.08px;top:121.70px;font-size:9.3px;color:#cbc6c1;letter-spacing:0.188px;">Alle Änderungen gespeichert</span>
<div style="left:1352.5px;top:120.3px;width:10px;height:10px;border-radius:50%;background:radial-gradient(circle at 50% 55%,#c6e89a 0,#c6e89a 18%,#a3d45e 30%);"></div>
<svg style="left:1562.50px;top:107.00px;" width="9.70" height="5.70" viewBox="6 8.59 12.00 7.41" preserveAspectRatio="none" fill="#ffffff"><path d="M16.59 8.59L12 13.17 7.41 8.59 6 10l6 6 6-6z"/></svg>
<svg style="left:1503.8px;top:85.4px" width="49.2" height="49.2" viewBox="0 0 100 100">
<defs><clipPath id="av"><circle cx="50" cy="50" r="50"/></clipPath>
<filter id="bl" x="-20%" y="-20%" width="140%" height="140%"><feGaussianBlur stdDeviation="2.2"/></filter>
<linearGradient id="hg" x1="0" y1="0" x2="1" y2="0.300"><stop offset="0" stop-color="#8f8d8b"/><stop offset="0.350" stop-color="#cfcdca"/><stop offset="0.600" stop-color="#a9a7a4"/><stop offset="0.850" stop-color="#dad8d5"/><stop offset="1" stop-color="#b5b3b0"/></linearGradient>
<radialGradient id="fg" cx="52%" cy="55%" r="55%"><stop offset="0" stop-color="#dddbd8"/><stop offset="0.600" stop-color="#b3b1ae"/><stop offset="1" stop-color="#7d7b79"/></radialGradient></defs>
<g clip-path="url(#av)"><rect width="100" height="100" fill="#454442"/>
<g filter="url(#bl)">
<rect x="-5" y="-5" width="110" height="80" fill="url(#hg)"/>
<path d="M-2 58C2 36 20 22 42 21c24-1 44 12 52 42l-2 6-14-4-6-24-46-4-8 22-14 8z" fill="#2f2e2d"/>
<path d="M-5 72l20-6 10 10 4 30h-34z" fill="#8e8c8a"/>
<path d="M26 44c0-8 50-8 52 0l2 24-8 20-20 8-20-8-8-22z" fill="url(#fg)"/>
<path d="M72 70l22 2 8 4v30H62z" fill="#403f3d"/><path d="M86 30c8 8 14 24 14 40l-8-2c0-14-4-26-12-34z" fill="#cfcdca"/>
<path d="M20 92c10 6 50 6 64-2l4 16H16z" fill="#3a3937"/>
<path d="M28 40c8-4 14-4 20-1M56 39c6-3 12-3 20 1" stroke="#3a3937" stroke-width="4" fill="none"/><ellipse cx="38.500" cy="44" rx="7" ry="4.500" fill="#6a6866"/><ellipse cx="62.600" cy="44" rx="7" ry="4.500" fill="#6a6866"/>
<path d="M31 72c1-12 9-18 18-18s17 5 19 18l-6 3-4-8c-4-2-13-2-17 0l-4 8z" fill="#2b2a29"/><path d="M38 62c6-5 18-5 24 0v5H38z" fill="#2b2a29"/>
<ellipse cx="49" cy="69" rx="8" ry="3.500" fill="#55534f"/>
<ellipse cx="50" cy="80" rx="9" ry="7" fill="#e3e1de"/>
<ellipse cx="48" cy="51" rx="4" ry="4" fill="#eceae7"/>
</g>
<circle cx="38.500" cy="42" r="3" fill="#fbfaf8"/><circle cx="62.600" cy="42.500" r="3" fill="#fbfaf8"/>
</g></svg>
<svg style="left:967.60px;top:157.50px;" width="11.40" height="10.80" viewBox="2 2 20.00 19.00" preserveAspectRatio="none" fill="#5e5e5e"><path d="M20 6h-4V4c0-1.11-.89-2-2-2h-4c-1.11 0-2 .89-2 2v2H4c-1.11 0-1.99.89-1.99 2L2 19c0 1.11.89 2 2 2h16c1.11 0 2-.89 2-2V8c0-1.11-.89-2-2-2zm-6 0h-4V4h4v2z"/></svg>
<span class="t" style="left:985.29px;top:156.60px;font-size:13.5px;color:#5e5e5e;letter-spacing:-0.106px;">Dienstbetrieb</span>
<svg style="left:1098.60px;top:157.00px;" width="10.00" height="11.30" viewBox="3 1 18.00 20.00" preserveAspectRatio="none" fill="#ffffff"><path d="M19 3h-4.18C14.4 1.84 13.3 1 12 1c-1.3 0-2.4.84-2.82 2H5c-1.1 0-2 .9-2 2v14c0 1.1.9 2 2 2h14c1.1 0 2-.9 2-2V5c0-1.1-.9-2-2-2zm-6 15h-2v-2h2v2zm0-4h-2V8h2v6zm-1-9c-.55 0-1-.45-1-1s.45-1 1-1 1 .45 1 1-.45 1-1 1z"/></svg>
<span class="t" style="left:1114.89px;top:156.60px;font-size:13.5px;color:#ffffff;letter-spacing:-0.028px;">Disziplinarstrafwesen</span>
<svg style="left:1272.80px;top:158.00px;" width="12.00" height="10.30" viewBox="2 2 20.00 19.00" preserveAspectRatio="none" fill="#ffffff"><path d="M5 2h14v2h3v3c0 2.5-1.8 4.6-4.2 4.95C16.9 13.7 15.1 15 13 15.4V18h3.5v3h-9v-3H11v-2.6c-2.1-.4-3.9-1.7-4.8-3.45C3.8 11.6 2 9.5 2 7V4h3V2zM4 6v1c0 1.2.7 2.2 1.7 2.7C5.2 8.6 5 7.3 5 6H4zm16 0h-1c0 1.300-.2 2.600-.700 3.700C19.300 9.200 20 8.200 20 7V6z"/></svg>
<span class="t" style="left:1290.66px;top:156.60px;font-size:13.5px;color:#ffffff;letter-spacing:-0.078px;">Qualifikationen</span>
<svg style="left:1410.40px;top:157.50px;" width="12.00" height="10.80" viewBox="1 1 22.00 20.00" preserveAspectRatio="none" fill="#ffffff"><path d="M1 21h4V9H1v12zm22-11c0-1.1-.9-2-2-2h-6.310l.95-4.570.030-.320c0-.410-.170-.790-.440-1.060L14.170 1 7.590 7.590C7.220 7.950 7 8.450 7 9v10c0 1.100.900 2 2 2h9c.830 0 1.540-.5 1.840-1.220l3.020-7.050c.090-.230.140-.470.140-.730v-1.910l-.010-.010L23 10z"/></svg>
<span class="t" style="left:1430.64px;top:156.60px;font-size:13.5px;color:#ffffff;letter-spacing:-0.166px;">Vorschlagswesen</span>
<div style="left:14px;top:71px;width:1573px;height:114.5px;border:3px solid #e36c0a;"></div>
<div style="left:962px;top:182px;width:625px;height:44px;border:3px solid #e36c0a;"></div>
<div style="left:13px;top:185px;width:329px;height:332px;border:3px solid #376092;border-right:none;"></div>
<div style="left:13px;top:517px;width:329px;height:208px;border:3px solid #376092;border-right:none;"></div>
<div style="left:13px;top:726px;width:329px;height:231.5px;border:3px solid #376092;border-right:none;"></div>
<div style="left:16px;top:983px;width:329px;height:60px;background:#fde9d9;border:3px solid #e36c0a;"></div>
<div style="left:351px;top:983px;width:612px;height:60px;background:#fde9d9;border:3px solid #e36c0a;"></div>
<div style="left:968px;top:983px;width:619px;height:60px;background:#fde9d9;border:3px solid #e36c0a;"></div>
<div style="left:14px;top:958px;width:70px;height:41px;background:#f79646;border:3px solid #e36c0a;"></div>
<div style="left:351px;top:959px;width:70px;height:41px;background:#f79646;border:3px solid #e36c0a;"></div>
<div style="left:968px;top:964px;width:70px;height:41px;background:#f79646;border:3px solid #e36c0a;"></div>
<div style="left:341px;top:144px;width:621px;height:816.5px;border:3px solid #4bacc6;"></div>
<div style="left:341px;top:26.4px;width:879px;height:51px;background:#fde9d9;border:3px solid #e36c0a;"></div>
<div style="left:13px;top:42px;width:70px;height:41px;background:#f79646;border:3px solid #e36c0a;"></div>
<div style="left:527px;top:183px;width:69px;height:45px;background:#f79646;border:3px solid #4bacc6;"></div>
<div style="left:1251px;top:182px;width:70px;height:44px;background:#f79646;border:3px solid #e36c0a;"></div>
<div style="left:214px;top:338px;width:70px;height:41px;background:#f79646;border:3px solid #376092;"></div>
<div style="left:214px;top:604px;width:70px;height:41px;background:#f79646;border:3px solid #376092;"></div>
<div style="left:214px;top:852px;width:70px;height:41px;background:#f79646;border:3px solid #376092;"></div>
<span class="t" style="left:41.90px;top:53.90px;font-size:22px;font-weight:700;color:#fff;">1</span>
<span class="t" style="left:373.95px;top:42.50px;font-size:22px;color:#282c38;letter-spacing:0.464px;">Header mit Modul-Navigation/Aktionsliste, Volltextsuche und Bereichsnavigation</span>
<span class="t" style="left:68.20px;top:1004.00px;font-size:22px;color:#282c38;letter-spacing:0.425px;">Datenquelle und Filter</span>
<span class="t" style="left:547.70px;top:1004.00px;font-size:22px;color:#282c38;letter-spacing:0.423px;">Liste / Datenselektion</span>
<span class="t" style="left:1077.70px;top:1004.00px;font-size:22px;color:#282c38;letter-spacing:0.298px;">Detailanzeige (Kalender/Formular/Liste)</span>
<span class="t" style="left:40.67px;top:970.00px;font-size:22px;font-weight:700;color:#fff;">A</span>
<span class="t" style="left:377.82px;top:970.80px;font-size:22px;font-weight:700;color:#fff;">B</span>
<span class="t" style="left:994.91px;top:975.60px;font-size:22px;font-weight:700;color:#fff;">C</span>
<span class="t" style="left:547.30px;top:196.10px;font-size:23px;font-weight:700;color:#fff;letter-spacing:1.100px;">2b</span>
<span class="t" style="left:1274.05px;top:195.40px;font-size:23px;font-weight:700;color:#fff;letter-spacing:-0.812px;">2c</span>
<span class="t" style="left:234.14px;top:350.10px;font-size:22.5px;font-weight:700;color:#fff;letter-spacing:0.624px;">A1</span>
<span class="t" style="left:234.14px;top:616.10px;font-size:22.5px;font-weight:700;color:#fff;letter-spacing:0.899px;">A2</span>
<span class="t" style="left:234.14px;top:864.10px;font-size:22.5px;font-weight:700;color:#fff;letter-spacing:0.811px;">A3</span>
</body></html>
